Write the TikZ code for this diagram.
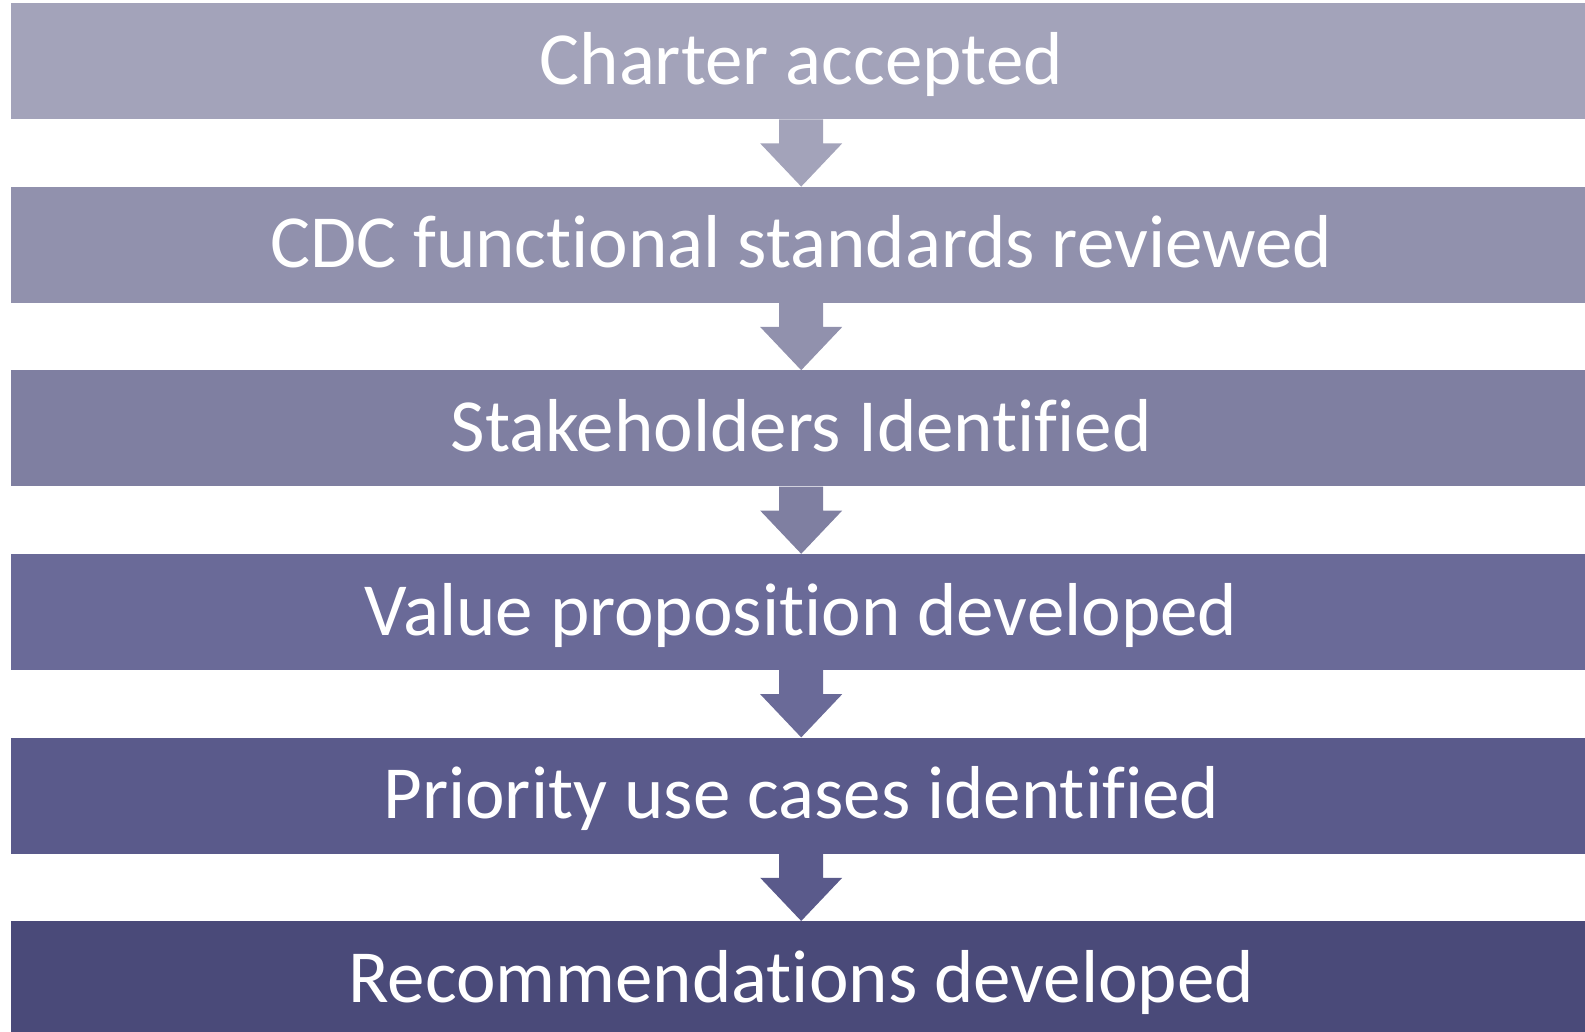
\documentclass[tikz,border=0pt]{standalone}
\usepackage{fontspec}
\setmainfont{Carlito}[Ligatures=NoCommon]
\usetikzlibrary{calc}
\definecolor{c1}{RGB}{163,163,186}
\definecolor{c2}{RGB}{145,145,173}
\definecolor{c3}{RGB}{127,127,161}
\definecolor{c4}{RGB}{106,106,152}
\definecolor{c5}{RGB}{90,90,139}
\definecolor{c6}{RGB}{74,74,121}
\begin{document}
\begin{tikzpicture}[x=1pt,y=1pt,
  stepbox/.style={rectangle, anchor=north west, minimum width=1580pt, minimum height=116pt,
    inner sep=0pt, text=white, text height=56pt, text depth=10pt,
    font=\fontsize{75}{90}\selectfont}]
\useasboundingbox (0,0) rectangle (1585,-1032);
\begin{scope}
\clip (0,0) rectangle (1585,-1032);
\node[stepbox, fill=c1] (b1) at (11,-3) {Charter accepted};
\node[stepbox, fill=c2] (b2) at (11,-186.6) {CDC functional standards reviewed};
\node[stepbox, fill=c3] (b3) at (11,-370.2) {Stakeholders Identified};
\node[stepbox, fill=c4] (b4) at (11,-553.8) {Value proposition developed};
\node[stepbox, fill=c5] (b5) at (11,-737.4) {Priority use cases identified};
\node[stepbox, fill=c6] (b6) at (11,-921) {Recommendations developed};
\foreach \a/\b/\c in {b1/b2/c1, b2/b3/c2, b3/b4/c3, b4/b5/c4, b5/b6/c5}{
  \fill[\c] ($(\a.south)+(-22,0)$) -- ($(\a.south)+(-22,-24)$) -- ($(\a.south)+(-41,-24)$)
    -- (\b.north) -- ($(\a.south)+(41,-24)$) -- ($(\a.south)+(22,-24)$)
    -- ($(\a.south)+(22,0)$) -- cycle;
}
\end{scope}
\end{tikzpicture}
\end{document}
